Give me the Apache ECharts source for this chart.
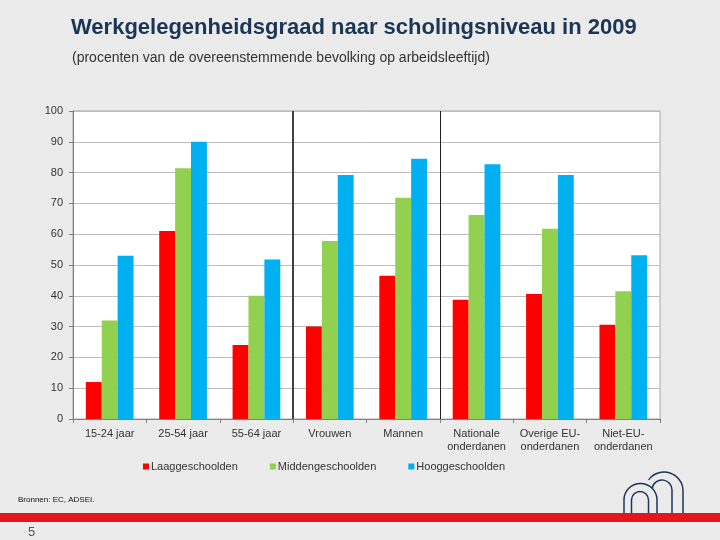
<!DOCTYPE html>
<html>
<head>
<meta charset="utf-8">
<script src="https://cdn.jsdelivr.net/npm/echarts@6/dist/echarts.min.js"></script>
<style>
html,body{margin:0;padding:0;background:#ebebeb;}
#c{width:720px;height:540px;}
</style>
</head>
<body>
<div id="c"></div>
<script>
const categories = ['15-24 jaar','25-54 jaar','55-64 jaar','Vrouwen','Mannen','Nationale\nonderdanen','Overige EU-\nonderdanen','Niet-EU-\nonderdanen'];
const seriesNames = ['Laaggeschoolden','Middengeschoolden','Hooggeschoolden'];
const laag = [12, 61, 24, 30, 46.5, 38.7, 40.6, 30.6];
const midden = [32, 81.4, 40, 57.8, 71.8, 66.2, 61.8, 41.5];
const hoog = [53, 90, 51.8, 79.2, 84.5, 82.7, 79.2, 53.2];
const yTicks = [0,10,20,30,40,50,60,70,80,90,100];
const groupBoundaries = [3, 5];
const colors = ['#ff0000','#92d050','#00b0f0'];

const chart = echarts.init(document.getElementById('c'));
const font = 'Liberation Sans, Arial, sans-serif';
const navy = '#1d3557';
const logoStyle = {fill: 'none', stroke: navy, lineWidth: 1.5};
function arch(cx, cy, r) {
  return [
    {type: 'arc', shape: {cx: cx, cy: cy, r: r, startAngle: Math.PI, endAngle: 2 * Math.PI, clockwise: true}, style: logoStyle, z: 9},
    {type: 'line', shape: {x1: cx - r, y1: cy, x2: cx - r, y2: 513}, style: logoStyle, z: 9},
    {type: 'line', shape: {x1: cx + r, y1: cy, x2: cx + r, y2: 513}, style: logoStyle, z: 9}
  ];
}
const logo = [].concat(
  arch(640.5, 500, 16.5),
  arch(640, 500, 8.5),
  [
    {type: 'arc', shape: {cx: 664, cy: 491, r: 19, startAngle: Math.PI * 1.2, endAngle: 2 * Math.PI, clockwise: true}, style: logoStyle, z: 9},
    {type: 'line', shape: {x1: 683, y1: 491, x2: 683, y2: 513}, style: logoStyle, z: 9},
    {type: 'arc', shape: {cx: 662, cy: 490, r: 10, startAngle: Math.PI * 1.05, endAngle: 2 * Math.PI, clockwise: true}, style: logoStyle, z: 9},
    {type: 'line', shape: {x1: 672, y1: 490, x2: 672, y2: 513}, style: logoStyle, z: 9}
  ]
);

chart.setOption({
  backgroundColor: '#ebebeb',
  animation: false,
  textStyle: {fontFamily: font},
  title: [
    {text: 'Werkgelegenheidsgraad naar scholingsniveau in 2009', left: 66, top: 12,
     textStyle: {fontFamily: font, fontSize: 22, fontWeight: 'bold', color: '#1a3556'}},
    {text: '(procenten van de overeenstemmende bevolking op arbeidsleeftijd)', left: 67, top: 46,
     textStyle: {fontFamily: font, fontSize: 14, fontWeight: 'normal', color: '#333'}},
    {text: 'Bronnen: EC, ADSEI.', left: 13, top: 491,
     textStyle: {fontFamily: font, fontSize: 8, fontWeight: 'normal', color: '#111'}},
    {text: '5', left: 23, top: 521,
     textStyle: {fontFamily: font, fontSize: 13, fontWeight: 'normal', color: '#555'}}
  ],
  legend: {
    data: seriesNames, left: 138, top: 456, itemWidth: 6, itemHeight: 6, itemGap: 32,
    icon: 'rect',
    textStyle: {fontFamily: font, fontSize: 11, color: '#333', padding: [0,0,0,-3]}
  },
  grid: {left: 73, right: 60, top: 111, bottom: 121, show: true, backgroundColor: '#ffffff',
         borderColor: '#a8a8a8', borderWidth: 1},
  xAxis: [
    {type: 'category', data: categories,
     axisLine: {lineStyle: {color: '#808080', width: 1}},
     axisTick: {show: true, length: 4, lineStyle: {color: '#808080'}},
     axisLabel: {fontFamily: font, fontSize: 11, color: '#333', margin: 8, lineHeight: 13, interval: 0}},
    {type: 'value', min: 0, max: 8, show: false}
  ],
  yAxis: {
    type: 'value', min: 0, max: 100, interval: 10,
    axisLine: {show: true, lineStyle: {color: '#808080'}},
    axisTick: {show: true, length: 4, lineStyle: {color: '#808080'}},
    splitLine: {lineStyle: {color: '#bdbdbd'}},
    axisLabel: {fontFamily: font, fontSize: 11, color: '#333', margin: 10,
      formatter: v => yTicks.indexOf(v) >= 0 ? String(v) : ''}
  },
  series: [
    {name: seriesNames[0], type: 'bar', data: laag, itemStyle: {color: colors[0]}, barGap: '0%', barCategoryGap: '35%'},
    {name: seriesNames[1], type: 'bar', data: midden, itemStyle: {color: colors[1]}, barGap: '0%', barCategoryGap: '35%'},
    {name: seriesNames[2], type: 'bar', data: hoog, itemStyle: {color: colors[2]}, barGap: '0%', barCategoryGap: '35%'},
    {type: 'line', xAxisIndex: 1, data: [], silent: true,
     markLine: {symbol: 'none', silent: true, label: {show: false},
       data: [
         {xAxis: groupBoundaries[0], lineStyle: {color: '#404040', width: 2, type: 'solid'}},
         {xAxis: groupBoundaries[1], lineStyle: {color: '#202020', width: 1, type: 'solid'}}
       ]}}
  ],
  graphic: [
    {type: 'rect', shape: {x: 0, y: 513, width: 720, height: 9}, style: {fill: '#e8141b'}, z: 10}
  ].concat(logo)
});
</script>
</body>
</html>
